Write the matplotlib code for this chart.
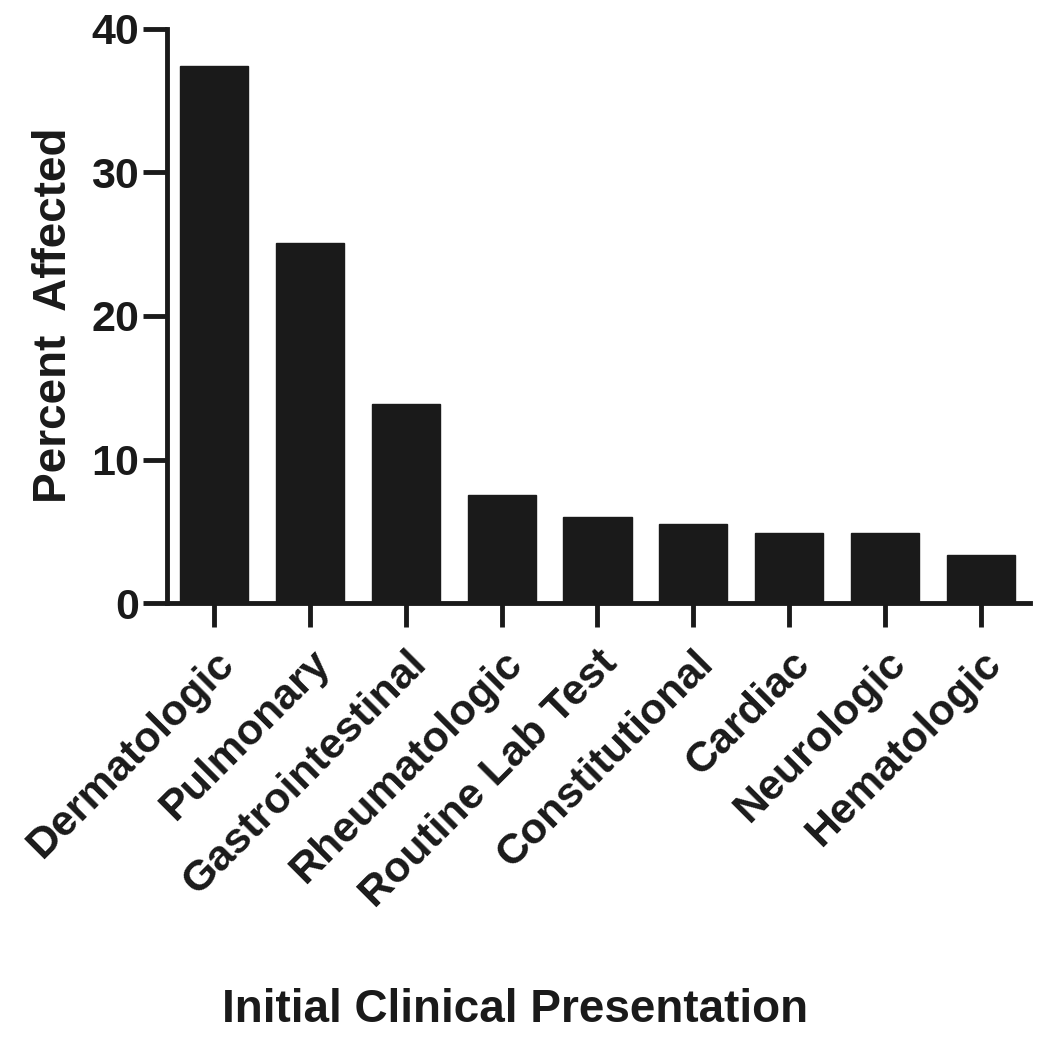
#!/usr/bin/env python3
# -*- coding: utf-8 -*-
"""Initial clinical presentation bar chart."""

import matplotlib
matplotlib.use('Agg')
import matplotlib.pyplot as plt

plt.rc('font', family='Liberation Sans', weight='bold')

categories = ['Dermatologic', 'Pulmonary', 'Gastrointestinal', 'Rheumatologic',
              'Routine Lab Test', 'Constitutional', 'Cardiac', 'Neurologic',
              'Hematologic']
percent = [37.4, 25.1, 13.9, 7.5, 6.0, 5.5, 4.9, 4.9, 3.35]
yticks = [0, 10, 20, 30, 40]

LabelSize = 33
TickSize = 31

fig = plt.figure(figsize=(10.43, 10.5), dpi=100)
ax = fig.add_axes([0.160, 0.4257, 0.8275, 0.5467])

x = range(len(categories))
ax.bar(x, percent, width=0.71, color='#1a1a1a', edgecolor='#1a1a1a', linewidth=1)

ax.set_xlim(-0.49, 8.51)
ax.set_ylim(0, 40)
ax.set_yticks(yticks)
ax.set_xticks(list(x))
ax.set_xticklabels(categories, rotation=45, ha='right', va='top',
                   rotation_mode='anchor', fontsize=TickSize, fontweight='bold')
ax.tick_params(axis='y', labelsize=TickSize, width=3.5, length=17, pad=3,
               color='#1a1a1a', labelcolor='#1a1a1a')
ax.tick_params(axis='x', width=3.5, length=17, pad=12, color='#1a1a1a',
               labelcolor='#1a1a1a')

for side in ['top', 'right']:
    ax.spines[side].set_visible(False)
for side in ['left', 'bottom']:
    ax.spines[side].set_linewidth(3.5)
    ax.spines[side].set_color('#1a1a1a')

fig.text(0.052, 0.70, 'Percent  Affected', rotation=90, ha='center', va='center',
         fontsize=LabelSize, fontweight='bold', color='#1a1a1a')
fig.text(0.494, 0.038, 'Initial Clinical Presentation', ha='center', va='center',
         fontsize=LabelSize, fontweight='bold', color='#1a1a1a')

fig.savefig('out.png', dpi=100)
